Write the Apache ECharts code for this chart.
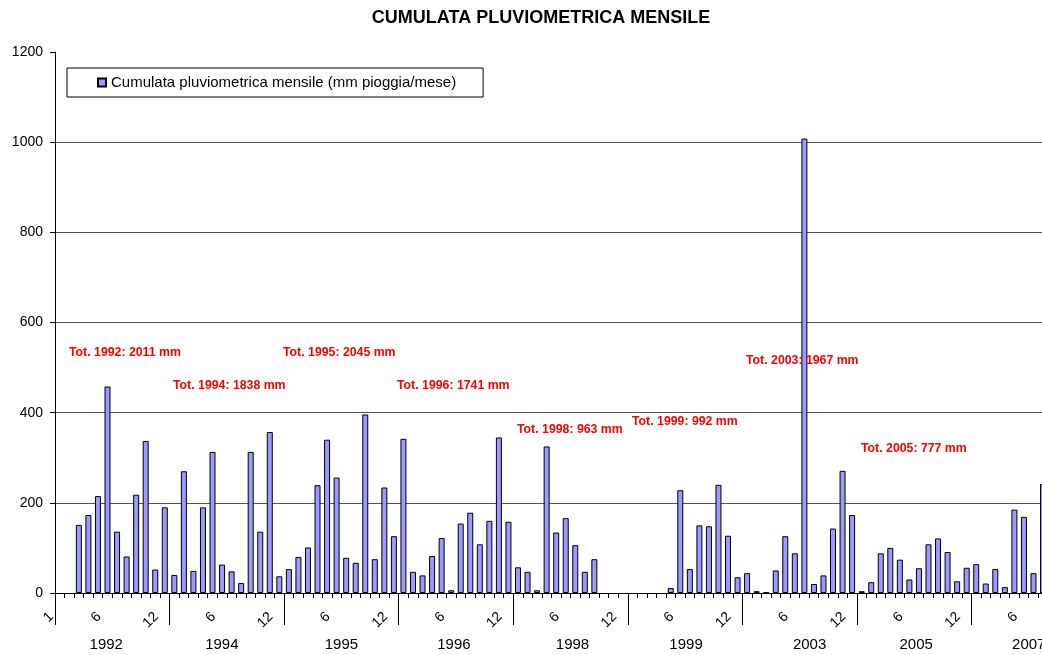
<!DOCTYPE html>
<html>
<head>
<meta charset="utf-8">
<script src="https://cdn.jsdelivr.net/npm/echarts@6/dist/echarts.min.js"></script>
<style>html,body{margin:0;padding:0;background:#fff}#c{width:1042px;height:655px}</style>
</head>
<body>
<div id="c"></div>
<script>
// ---- data ----
const years = ['1992', '1994', '1995', '1996', '1998', '1999', '2003', '2005', '2007'];
const monthLabels = ['1','2','3','4','5','6','7','8','9','10','11','12'];
const rain1992 = [null, null, 151, 173, 215, 458, 136, 81, 218, 337, 52, 190];
const rain1994 = [40, 270, 49, 190, 313, 63, 48, 22, 313, 136, 357, 37];
const rain1995 = [53, 80, 101, 239, 340, 256, 78, 67, 396, 75, 234, 126];
const rain1996 = [342, 47, 39, 82, 122, 6, 154, 178, 108, 160, 345, 158];
const rain1998 = [57, 47, 6, 325, 134, 166, 106, 47, 75, null, null, null];
const rain1999 = [null, null, null, null, 11, 228, 53, 150, 148, 240, 127, 35];
const rain2003 = [44, 4, 1, 50, 126, 88, 1008, 20, 39, 143, 271, 173];
const rain2005 = [4, 24, 88, 100, 74, 30, 55, 108, 121, 91, 26, 56];
const rain2007 = [64, 21, 53, 13, 185, 169, 44, 242, null, null, null, null];
const yTicks = [0, 200, 400, 600, 800, 1000, 1200];
const seriesName = 'Cumulata pluviometrica mensile (mm pioggia/mese)';
const titleText = 'CUMULATA PLUVIOMETRICA MENSILE';
const totalTexts = ['Tot. 1992: 2011 mm', 'Tot. 1994: 1838 mm', 'Tot. 1995: 2045 mm', 'Tot. 1996: 1741 mm',
  'Tot. 1998: 963 mm', 'Tot. 1999: 992 mm', 'Tot. 2003: 1967 mm', 'Tot. 2005: 777 mm'];

// ---- layout (not data) ----
const totalPos = [[69, 353], [173, 386], [283, 353], [397, 386], [517, 430], [632, 422], [746, 361], [861, 449]];
const yearLabelShift = [-6, -5, 0, -2, 2, 1, 10, 2, 0];

const allRain = [rain1992, rain1994, rain1995, rain1996, rain1998, rain1999, rain2003, rain2005, rain2007];
const cats = [];
const values = [];
allRain.forEach(arr => { arr.forEach((v, i) => { cats.push(monthLabels[i]); values.push(v); }); });

const FONT = 'Liberation Sans, Arial, sans-serif';
const chart = echarts.init(document.getElementById('c'), null, {renderer: 'canvas'});

const graphics = [{
  type: 'text', x: 541, y: 18,
  style: {text: titleText, fill: '#000', font: 'bold 18px ' + FONT, textAlign: 'center', textVerticalAlign: 'middle'}
}];
totalTexts.forEach((t, i) => {
  graphics.push({
    type: 'text', x: totalPos[i][0], y: totalPos[i][1], z: 10,
    style: {text: t, fill: '#FF0000', font: 'bold 12.3px ' + FONT, textAlign: 'left', textVerticalAlign: 'middle'}
  });
});

const yearRich = {};
yearLabelShift.forEach((s, i) => {
  yearRich['y' + i] = {
    fontSize: 15, color: '#000', fontFamily: FONT,
    padding: s >= 0 ? [0, 0, 0, 2 * s] : [0, -2 * s, 0, 0]
  };
});

chart.setOption({
  animation: false,
  backgroundColor: '#fff',
  textStyle: {fontFamily: FONT},
  grid: {left: 55, right: -44, top: 52, bottom: 62, containLabel: false, outerBoundsMode: 'none'},
  legend: {
    left: 67, top: 68,
    data: [seriesName],
    icon: 'rect', itemWidth: 8, itemHeight: 8,
    borderColor: '#000', borderWidth: 1,
    padding: [7, 27, 7, 30],
    textStyle: {fontSize: 15, color: '#000', fontFamily: FONT}
  },
  xAxis: [{
    type: 'category', data: cats, position: 'bottom',
    axisLine: {show: true, lineStyle: {color: '#000', width: 1}},
    axisTick: {show: true, interval: 0, alignWithLabel: false, length: 5, lineStyle: {color: '#000', width: 1}},
    axisLabel: {
      interval: (idx, val) => idx === 0 || val === '6' || val === '12',
      rotate: 45, margin: 13, padding: [0, 12, 0, 0],
      color: '#000', fontSize: 14, fontFamily: FONT
    }
  }, {
    type: 'category', data: years, position: 'bottom',
    axisLine: {show: false},
    axisTick: {show: true, interval: 0, alignWithLabel: false, length: 32, lineStyle: {color: '#000', width: 1}},
    axisLabel: {
      interval: 0, margin: 44, color: '#000', fontSize: 15, fontFamily: FONT,
      formatter: (v, i) => '{y' + i + '|' + v + '}',
      rich: yearRich
    }
  }],
  yAxis: {
    type: 'value', min: yTicks[0], max: yTicks[yTicks.length - 1], interval: 200,
    axisLine: {show: true, lineStyle: {color: '#000'}},
    axisTick: {show: true, length: 5, lineStyle: {color: '#000'}},
    axisLabel: {margin: 12, color: '#000', fontSize: 14, fontFamily: FONT, formatter: v => String(v)},
    splitLine: {show: true, showMinLine: false, showMaxLine: false, lineStyle: {color: '#555', width: 1}}
  },
  series: [{
    name: seriesName, type: 'bar', xAxisIndex: 0, data: values,
    barWidth: 6,
    itemStyle: {color: '#9999FF', borderColor: '#000', borderWidth: 1}
  }],
  graphic: graphics
});
</script>
</body>
</html>
